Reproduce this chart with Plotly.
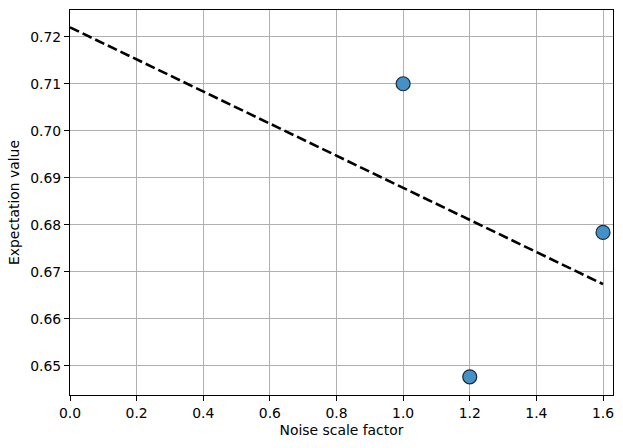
import plotly.graph_objects as go

scale_factors = [1.0, 1.2, 1.6]
expectation_values = [0.710, 0.6477, 0.6784]
fit_x = [0.0, 1.6]
fit_y = [0.7220, 0.6674]
x_ticks = [0.0, 0.2, 0.4, 0.6, 0.8, 1.0, 1.2, 1.4, 1.6]
y_ticks = [0.65, 0.66, 0.67, 0.68, 0.69, 0.70, 0.71, 0.72]

FS = 13.9

fig = go.Figure()
fig.add_trace(go.Scatter(x=fit_x, y=fit_y, mode="lines",
                         line=dict(color="black", width=2.6, dash="10px,4px"),
                         showlegend=False))
fig.add_trace(go.Scatter(x=scale_factors, y=expectation_values, mode="markers",
                         marker=dict(size=14, color="#4391c6",
                                     line=dict(color="#1c2a38", width=1.2)),
                         showlegend=False))

axis_common = dict(showline=True, linecolor="black", linewidth=1.2, mirror=True,
                   ticks="outside", ticklen=5, tickwidth=1, tickcolor="black",
                   showgrid=True, gridcolor="#b0b0b0", gridwidth=1, zeroline=False,
                   tickfont=dict(family="DejaVu Sans", size=FS, color="black"))

fig.update_xaxes(range=[0, 1.63], tickvals=x_ticks,
                 ticktext=[f"{v:.1f}" for v in x_ticks],
                 title=dict(text="Noise scale factor", standoff=5,
                            font=dict(family="DejaVu Sans", size=FS, color="black")),
                 **axis_common)
fig.update_yaxes(range=[0.64383, 0.72568], tickvals=y_ticks,
                 ticktext=[f"{v:.2f}" for v in y_ticks],
                 title=dict(text="Expectation value", standoff=7,
                            font=dict(family="DejaVu Sans", size=FS, color="black")),
                 **axis_common)

fig.update_layout(width=623, height=448, margin=dict(l=70, r=10, t=10, b=53),
                  plot_bgcolor="white", paper_bgcolor="white",
                  font=dict(family="DejaVu Sans", size=FS, color="black"))

fig.write_html("out.html")
